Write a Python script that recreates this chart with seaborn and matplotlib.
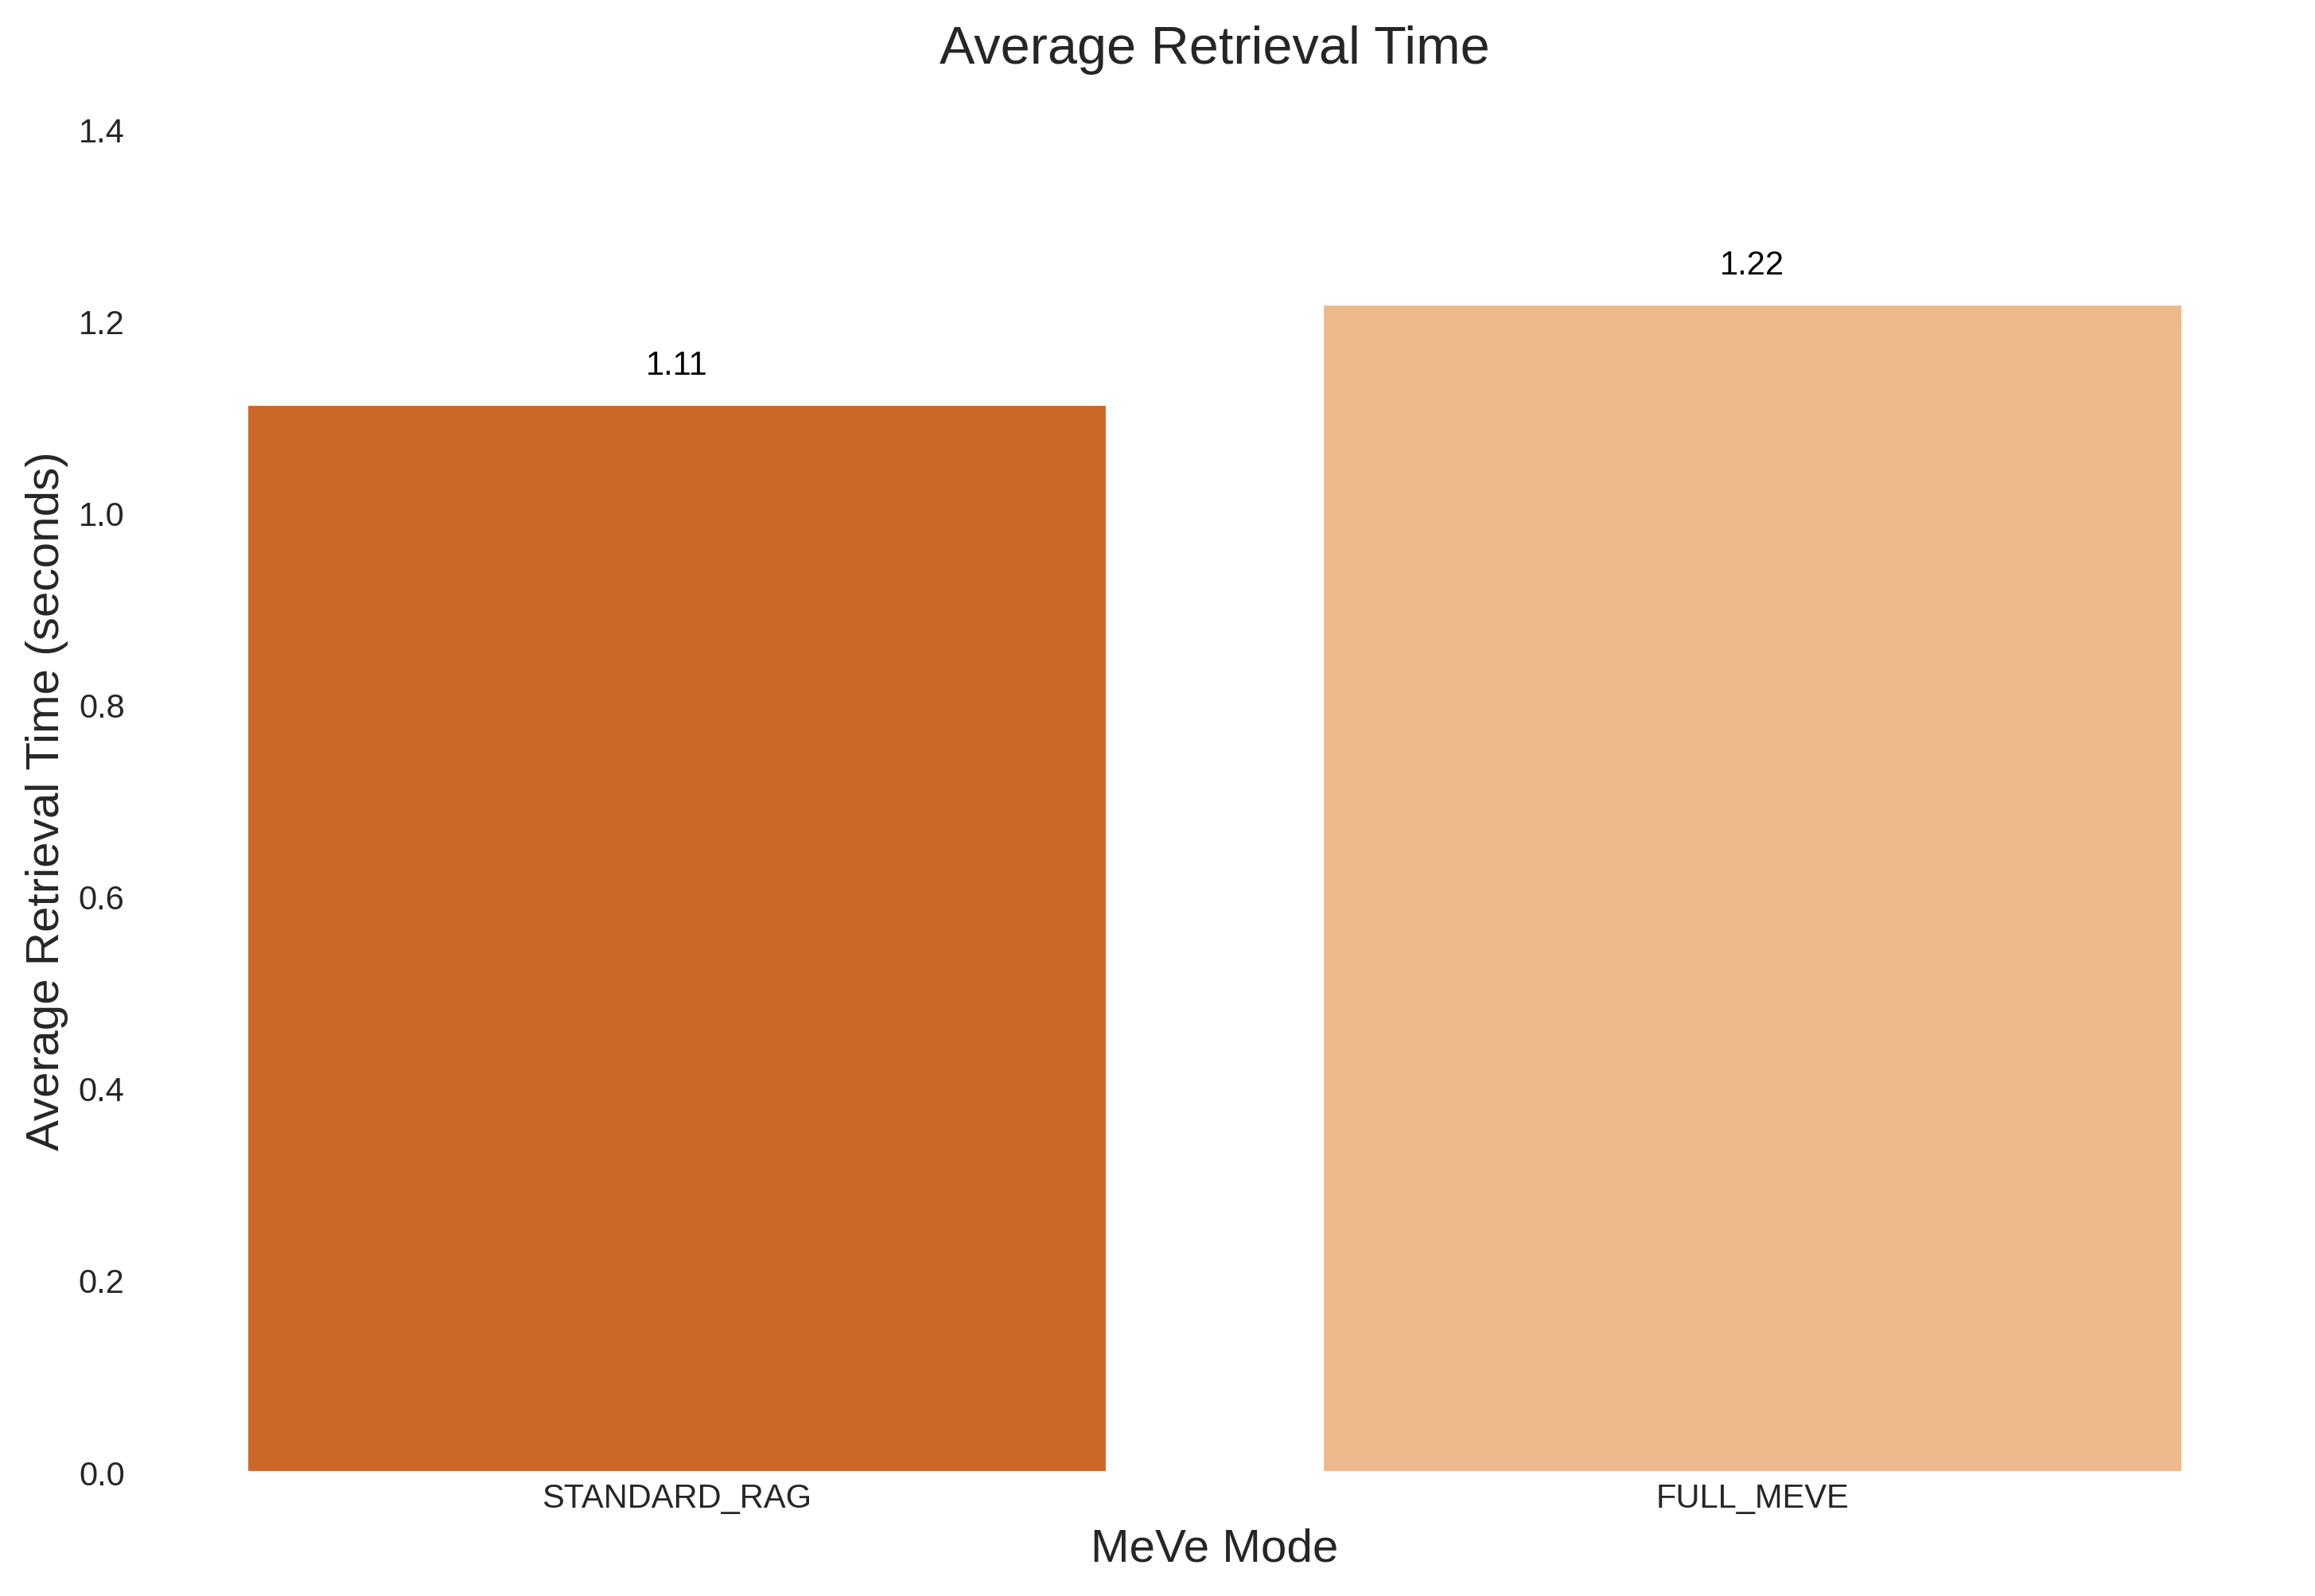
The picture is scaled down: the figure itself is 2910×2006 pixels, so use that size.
import numpy as np
import pandas as pd
import matplotlib
matplotlib.use("Agg")
import matplotlib.pyplot as plt
import seaborn as sns

modes = ["STANDARD_RAG", "FULL_MEVE"]
avg_times = [1.114, 1.218]
bar_colors = ["#CD6629", "#EDB98C"]

sns.set_theme(style="white")
plt.rcParams['font.family'] = ['Liberation Sans', 'DejaVu Sans']

df = pd.DataFrame({"mode": modes, "time": avg_times})

fig, ax = plt.subplots(figsize=(9.703, 6.687), dpi=300)
sns.barplot(data=df, x="mode", y="time", hue="mode", palette=bar_colors,
            legend=False, ax=ax, saturation=1)

for p in ax.patches:
    h = p.get_height()
    ax.annotate(f"{h:.2f}", (p.get_x() + p.get_width() / 2, h),
                xytext=(0, 6.8), textcoords="offset points",
                ha="center", va="bottom", fontsize=10, color="black")

ax.set_ylim(0, 1.4)
ax.set_title("Average Retrieval Time", fontsize=16, pad=20)
ax.set_xlabel("MeVe Mode", fontsize=14, labelpad=4)
ax.set_ylabel("Average Retrieval Time (seconds)", fontsize=14, labelpad=3)
ax.tick_params(axis="x", labelsize=10, length=0, pad=3)
ax.tick_params(axis="y", labelsize=10, length=0, pad=4.3)
sns.despine(left=True, bottom=True)

fig.subplots_adjust(left=0.060, right=0.989, bottom=0.0773, top=0.9187)
fig.savefig("out.png", dpi=300)
